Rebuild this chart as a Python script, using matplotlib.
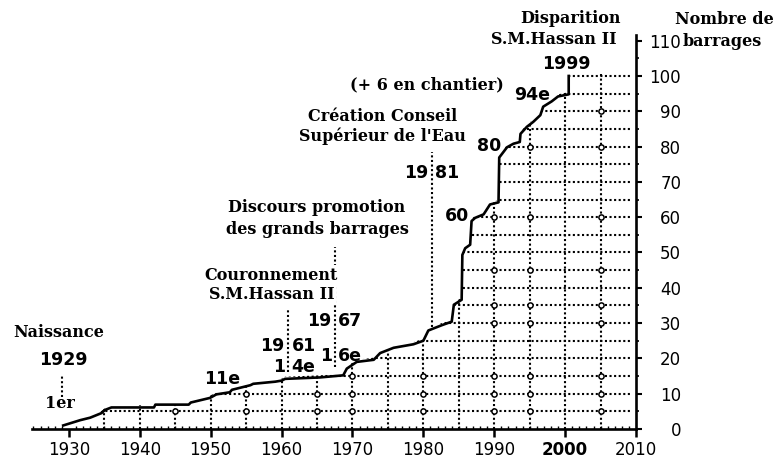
import matplotlib
matplotlib.use('Agg')
import matplotlib.pyplot as plt
import numpy as np
from matplotlib.patches import Polygon

######################################################################

# DATA : CUMULATIVE NUMBER OF DAMS

years = [1929.2, 1931.6, 1933.0, 1934.6, 1935.1, 1936.0, 1942.0, 1942.2, 1946.9, 1947.2,
         1949.9, 1950.8, 1952.7, 1953.0, 1955.6, 1956.0, 1959.1, 1960.0, 1960.5, 1965.4,
         1968.7, 1969.2, 1970.6, 1973.0, 1973.9, 1975.8, 1978.6, 1980.0, 1980.7, 1982.6,
         1984.0, 1984.3, 1985.4, 1985.5, 1985.9, 1986.6, 1986.8, 1987.3, 1988.5, 1989.4,
         1990.6, 1990.7, 1991.8, 1992.7, 1993.6, 1993.7, 1994.6, 1995.5, 1996.5, 1996.9,
         1998.1, 1999.0, 2000.5, 2000.5]
dams = [1.0, 2.5, 3.2, 4.5, 5.4, 6.1, 6.1, 6.9, 6.9, 7.5,
        8.8, 9.8, 10.4, 11.1, 12.4, 12.8, 13.4, 13.7, 14.2, 14.6,
        15.2, 17.1, 19.0, 19.6, 21.5, 23.0, 24.0, 25.0, 27.9, 29.4,
        30.4, 35.2, 36.6, 49.3, 51.2, 52.2, 58.9, 59.8, 60.8, 63.6,
        64.2, 76.9, 79.8, 80.8, 81.3, 83.6, 85.6, 87.0, 88.9, 91.3,
        92.8, 94.2, 94.8, 100.0]

grid_years = list(range(1935, 2010, 5))
grid_levels = list(range(5, 101, 5))
marker_years = [1945, 1955, 1965, 1970, 1980, 1990, 1995, 2005]
marker_levels = [5, 10, 15, 30, 35, 45, 60, 80, 90]

x_ticks = list(range(1930, 2011, 10))
y_ticks = list(range(0, 111, 10))

######################################################################

SERIF = 'DejaVu Serif'
SANS = 'DejaVu Sans'
DOTS = (0, (1, 1.2))

fig = plt.figure(figsize=(7.79, 4.71), dpi=100)
ax = fig.add_axes([0.0411, 0.0892, 0.7754, 0.8357])
ax.set_xlim(1924.8, 2010)
ax.set_ylim(0, 111.5)

# dotted grid, only under the curve
poly = Polygon(np.column_stack([[years[0]] + years + [2010, 2010],
                                [0] + [d + 0.6 for d in dams] + [100.6, 0]]),
               closed=True, transform=ax.transData, facecolor='none', edgecolor='none')
ax.add_patch(poly)
for lvl in grid_levels:
    ln, = ax.plot([1924.8, 2009.4], [lvl, lvl], ls=DOTS, lw=1.5, color='black', zorder=2)
    ln.set_clip_path(poly)
for yr in grid_years:
    ln, = ax.plot([yr, yr], [0, 101], ls=DOTS, lw=1.5, color='black', zorder=2)
    ln.set_clip_path(poly)

mx, my = np.meshgrid(marker_years, marker_levels)
mx, my = mx.ravel(), my.ravel()
keep = my < np.interp(mx, years, dams) - 1
ax.scatter(mx[keep], my[keep], s=14, marker='o', facecolor='white',
           edgecolor='black', linewidth=1.1, zorder=3)

# the curve
ax.plot(years, dams, color='black', lw=1.9, zorder=4)

# event markers
for yr, top, bottom in [(1929, 15.3, 9.1), (1960.9, 34.3, 16.1),
                        (1967.5, 51.6, 17.6), (1981.2, 78.5, 28.9)]:
    ax.plot([yr, yr], [bottom, top], ls=DOTS, lw=1.5, color='black', zorder=1)

# axes
for side in ['top', 'left']:
    ax.spines[side].set_visible(False)
ax.spines['bottom'].set_linewidth(1.9)
ax.spines['right'].set_linewidth(1.9)

ax.set_xticks(x_ticks)
ax.set_xticks(range(1925, 2010), minor=True)
ax.set_xticklabels([str(x) for x in x_ticks], family=SANS, fontsize=12)
ax.get_xticklabels()[x_ticks.index(2000)].set_fontweight('bold')
ax.tick_params(axis='x', which='major', direction='out', length=6, width=1.8, pad=3)
ax.tick_params(axis='x', which='minor', direction='in', length=2.5, width=1)

ax.yaxis.tick_right()
ax.set_yticks(y_ticks)
ax.set_yticks(range(5, 111, 10), minor=True)
ax.set_yticklabels([str(y) for y in y_ticks], family=SANS, fontsize=12)
for lbl in ax.get_yticklabels():
    lbl.set_horizontalalignment('right')
ax.tick_params(axis='y', which='major', direction='out', length=4, width=1.5, pad=28.5)
ax.tick_params(axis='y', which='minor', direction='out', length=2, width=1.2)


def note(x, y, s, size=11.5, family=SERIF, **kw):
    ax.text(x, y, s, ha=kw.pop('ha', 'center'), va='center', fontsize=size,
            family=family, fontweight='bold', zorder=5, **kw)


def split(x, y, left, right, gap=0.5, size=12.5):
    # year labels cut in two by the dotted line
    note(x - gap, y, left, size=size, family=SANS, ha='right')
    note(x + gap, y, right, size=size, family=SANS, ha='left')


white = dict(facecolor='white', edgecolor='none', pad=1)

note(1928.5, 27.2, 'Naissance')
note(1929.2, 19.5, '1929', size=12.5, family=SANS)
note(1928.8, 7.1, '1er')
note(1951.6, 14.2, '11e', size=12.5, family=SANS)

note(1958.5, 43.6, 'Couronnement', bbox=white)
note(1958.6, 38.0, 'S.M.Hassan II', bbox=white)
split(1960.9, 23.5, '19', '61')
split(1960.9, 17.6, '1', '4e', gap=0.4)

note(1964.9, 62.6, 'Discours promotion')
note(1965.0, 56.4, 'des grands barrages')
split(1967.5, 30.6, '19', '67')
split(1967.5, 20.7, '1', '6e', gap=0.4)

note(1974.2, 88.4, 'Création Conseil')
note(1974.2, 83.0, "Supérieur de l'Eau")
split(1981.2, 72.5, '19', '81')

note(1984.7, 60.3, '60', size=12.5, family=SANS)
note(1989.3, 80.2, '80', size=12.5, family=SANS)
note(1995.3, 94.6, '94e', size=12.5, family=SANS)
note(1980.5, 97.5, '(+ 6 en chantier)')

note(2000.1, 103.4, '1999', size=12.5, family=SANS)
note(2000.7, 116.4, 'Disparition')
note(1998.4, 110.2, 'S.M.Hassan II')

note(2022.4, 116.1, 'Nombre de')
note(2016.5, 109.9, 'barrages', ha='left')

fig.savefig('out.png', dpi=100)
